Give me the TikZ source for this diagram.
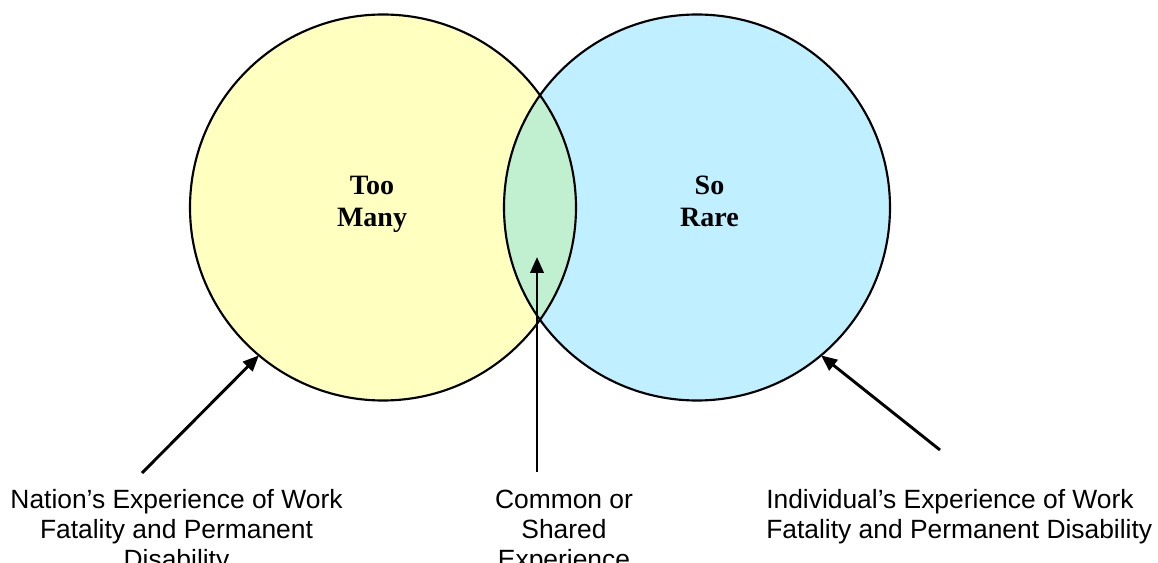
\documentclass[tikz,border=0pt]{standalone}
\usepackage{fontspec}
\setmainfont{Liberation Sans}
\newfontfamily\labserif{Liberation Serif}
\usetikzlibrary{arrows.meta}
\definecolor{vyellow}{RGB}{255,255,192}
\definecolor{vcyan}{RGB}{192,240,255}
\definecolor{vgreen}{RGB}{192,240,208}
\tikzset{
  venn/.style={circle, minimum size=289.5pt, inner sep=0pt, outer sep=0pt},
  vennline/.style={venn, draw=black, line width=1.6pt},
  arr/.style={line width=2.2pt, -{Triangle[length=12pt,width=10pt]}},
  caption/.style={font=\fontsize{19.8pt}{22.5pt}\selectfont, inner sep=0pt, anchor=base},
  big/.style={font=\labserif\bfseries\fontsize{21pt}{24pt}\selectfont, inner sep=0pt, anchor=base, align=center}
}
\begin{document}
\begin{tikzpicture}[x=0.75pt,y=-0.75pt]
\useasboundingbox (0,0) rectangle (1158,563);
\node[venn, fill=vyellow] (A) at (383,207.5) {};
\node[venn, fill=vcyan] (B) at (697,207.5) {};
\begin{scope}
  \clip (383,207.5) circle (193);
  \fill[vgreen] (697,207.5) circle (193);
\end{scope}
\node[vennline] at (A.center) {};
\node[vennline] at (B.center) {};
\node[big] (too) at (372,227) {Too\\Many};
\node[big] (rare) at (709.5,227) {So\\Rare};
\node[caption, align=center] (nation) at (176.5,568) {Nation’s Experience of Work\\Fatality and Permanent\\Disability};
\node[caption, align=center] (common) at (564,568) {Common or\\Shared\\Experience};
\node[caption, align=left, anchor=base west] (indiv) at (766,538) {Individual’s Experience of Work\\Fatality and Permanent Disability};
\coordinate (s1) at (142,473);
\coordinate (s2) at (537,472);
\coordinate (t2) at (537,257);
\coordinate (s3) at (940,450);
\draw[arr] (s1) -- (A.230);
\draw[arr] (s2) -- (t2);
\draw[arr] (s3) -- (B.310);
\end{tikzpicture}
\end{document}
